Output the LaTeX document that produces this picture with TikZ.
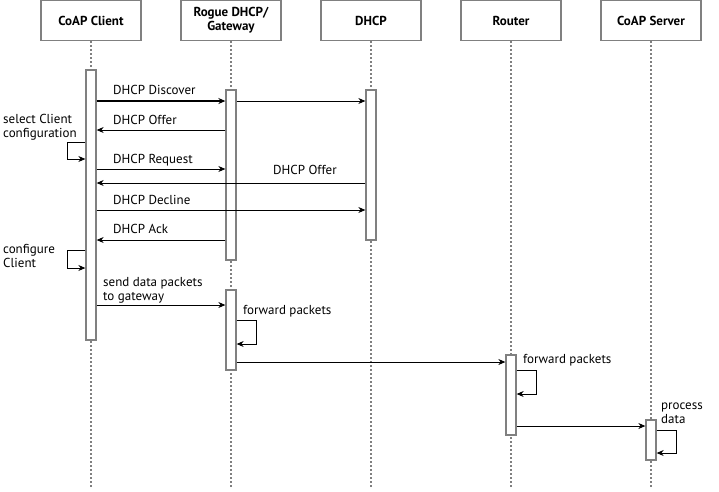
\documentclass[tikz,border=0pt]{standalone}
\usepackage{fontspec}
\setmainfont{PT Sans}
\usepackage{xcolor}
\usepackage{tikz}
\usetikzlibrary{arrows.meta, positioning}
\definecolor{framegray}{RGB}{128,128,128}

\tikzset{
  head/.style={draw=framegray, line width=1.3pt, fill=white, minimum width=100pt,
    minimum height=40pt, inner sep=0pt, align=center,
    font=\fontsize{13}{14}\selectfont\bfseries},
  life/.style={framegray, line width=1.2pt, dash pattern=on 2pt off 2pt},
  actbar/.style={draw=framegray, line width=1.3pt, fill=white, minimum width=10pt,
    inner sep=0pt},
  msg/.style={-{Stealth[length=7pt,width=6pt]}, line width=0.8pt},
  lbl/.style={anchor=base west, inner sep=0pt, align=left,
    font=\fontsize{13}{14}\selectfont},
}

\begin{document}
\begin{tikzpicture}[x=1pt, y=-1pt]
  \useasboundingbox (0,0) rectangle (719,491);
  % participants
  \node[head] (client) at (91,20.5) {CoAP Client};
  \node[head] (rogue) at (231,20.5) {Rogue DHCP/\\Gateway};
  \node[head] (dhcp) at (371,20.5) {DHCP};
  \node[head] (router) at (511,20.5) {Router};
  \node[head] (server) at (651,20.5) {CoAP Server};
  \foreach \p in {client, rogue, dhcp, router, server}
    \draw[life] (\p.south) -- (\p.south |- 0,488);

  % activation bars
  \node[actbar, minimum height=270pt] (clbar) at (91,205) {};
  \node[actbar, minimum height=170pt] (rgbar) at (231,175) {};
  \node[actbar, minimum height=150pt] (dhbar) at (371,165) {};
  \node[actbar, minimum height=80pt] (rgfwd) at (231,330) {};
  \node[actbar, minimum height=80pt] (rtbar) at (511,395) {};
  \node[actbar, minimum height=40pt] (svbar) at (651,440) {};

  % DHCP exchange
  \draw[msg, line width=1.4pt] (clbar.east |- 0,101) -- (rgbar.west |- 0,101);
  \draw[msg] (rgbar.east |- 0,101) -- (dhbar.west |- 0,101);
  \node[lbl] (discover) at (113,94) {DHCP Discover};
  \draw[msg] (rgbar.west |- 0,130) -- (clbar.east |- 0,130);
  \node[lbl] (offer) at (113,124) {DHCP Offer};
  \draw[msg] (clbar.west |- 0,142) -| (67,159) -- (clbar.west |- 0,159);
  \node[lbl] (select) at (3,137) {select Client\\configuration};
  \draw[msg] (clbar.east |- 0,169) -- (rgbar.west |- 0,169);
  \node[lbl] (request) at (113,163) {DHCP Request};
  \draw[msg] (dhbar.west |- 0,183) -- (clbar.east |- 0,183);
  \node[lbl] (offer2) at (273,174) {DHCP Offer};
  \draw[msg] (clbar.east |- 0,210) -- (dhbar.west |- 0,210);
  \node[lbl] (decline) at (113,204) {DHCP Decline};
  \draw[msg] (rgbar.west |- 0,240) -- (clbar.east |- 0,240);
  \node[lbl] (ack) at (113,233) {DHCP Ack};
  \draw[msg] (clbar.west |- 0,250) -| (67,268) -- (clbar.west |- 0,268);
  \node[lbl] (configure) at (3,267) {configure\\Client};

  % data path
  \draw[msg] (clbar.east |- 0,305) -- (rgfwd.west |- 0,305);
  \node[lbl] (send) at (103,300) {send data packets\\to gateway};
  \draw[msg] (rgfwd.east |- 0,320) -| (256,344) -- (rgfwd.east |- 0,344);
  \node[lbl] (fwd1) at (243,314) {forward packets};
  \draw[msg] (rgfwd.east |- 0,362) -- (rtbar.west |- 0,362);
  \draw[msg] (rtbar.east |- 0,370) -| (536,394) -- (rtbar.east |- 0,394);
  \node[lbl] (fwd2) at (523,363) {forward packets};
  \draw[msg] (rtbar.east |- 0,426) -- (svbar.west |- 0,426);
  \draw[msg] (svbar.east |- 0,430) -| (676,453) -- (svbar.east |- 0,453);
  \node[lbl] (process) at (661,423) {process\\data};
\end{tikzpicture}
\end{document}
